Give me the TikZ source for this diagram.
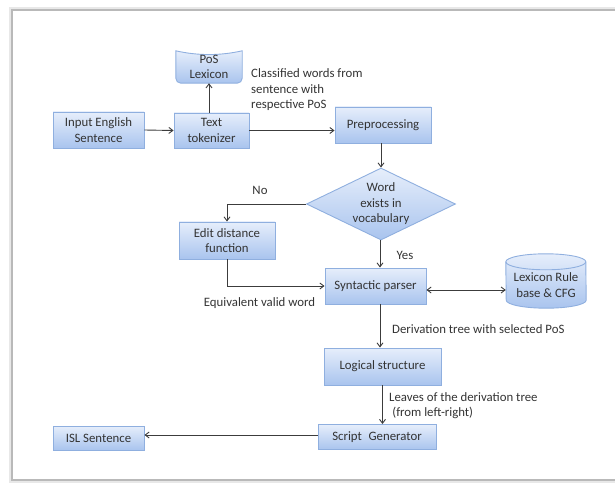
\documentclass[tikz,border=0pt]{standalone}
\usepackage{fontspec}
\setmainfont{Carlito}
\usetikzlibrary{arrows.meta,shapes.geometric,calc}
\definecolor{boxtop}{HTML}{E6EEFB}
\definecolor{boxbot}{HTML}{A9C4EE}
\definecolor{boxline}{HTML}{8FAFDF}
\definecolor{txtc}{HTML}{333333}
\definecolor{linec}{HTML}{3C3C3C}
\begin{document}
\begin{tikzpicture}[x=1pt,y=-1pt,
  every node/.style={font=\fontsize{12.8}{15.5}\selectfont, text=txtc},
  blok/.style={rectangle, draw=boxline, line width=0.9pt, top color=boxtop, bottom color=boxbot, align=center, inner sep=0pt},
  plain/.style={inner sep=0pt, align=left},
  conn/.style={draw=linec, line width=0.9pt, -{Straight Barb[length=4pt,width=6pt]}},
  bconn/.style={draw=linec, line width=0.9pt, {Straight Barb[length=4pt,width=6pt]}-{Straight Barb[length=4pt,width=6pt]}}
]
\useasboundingbox (0,0) rectangle (615,486);
% frame
\draw[line width=4pt, gray!18] (615,9) -- (11,9) -- (11,481) -- (615,481);
\draw[line width=1.4pt, gray!55] (615,10) -- (12,10) -- (12,480) -- (615,480);

% nodes
\node[blok, minimum width=91pt, minimum height=36pt] (inp) at (98.5,130) {Input English\\Sentence};
\node[blok, minimum width=75pt, minimum height=35pt] (tok) at (211.5,130.5) {Text\\tokenizer};
% PoS lexicon (custom shape)
\node[plain, align=center, minimum width=66pt, minimum height=32pt] (pos) at (209,67) {};
\path[draw=boxline, line width=0.9pt, top color=boxtop, bottom color=boxbot]
  (pos.north west) .. controls ($(pos.north west)+(22,5)$) and ($(pos.north east)+(-22,5)$) .. (pos.north east)
  -- ($(pos.south east)+(0,-5)$) arc[start angle=0, end angle=-90, radius=5pt]
  -- ($(pos.south west)+(5,0)$) arc[start angle=-90, end angle=-180, radius=5pt] -- cycle;
\node[plain, align=center] at (209,67) {PoS\\Lexicon};

\node[plain] (cls) at (251,90) [anchor=west] {Classified words from\\sentence with\\respective PoS};
\node[blok, minimum width=96pt, minimum height=36pt] (pre) at (383,125) {Preprocessing};
\node[diamond, draw=boxline, line width=0.9pt, top color=boxtop, bottom color=boxbot, minimum width=149pt, minimum height=72pt, inner sep=0pt] (dia) at (381,204) {};
\node[plain, align=center] (diat) at (381,204) {Word\\exists in\\vocabulary};
\node[blok, minimum width=96pt, minimum height=37pt] (edit) at (227,240.5) {Edit distance\\function};
\node[blok, minimum width=101pt, minimum height=36pt] (syn) at (375.5,286) {Syntactic parser};
% cylinder
\node[plain, align=center, minimum width=80pt, minimum height=54pt] (lex) at (546,281) {};
\path[draw=boxline, line width=0.9pt, top color=boxtop, bottom color=boxbot]
  ($(lex.north west)+(0,8)$) arc[x radius=40pt, y radius=8pt, start angle=180, end angle=0]
  -- ($(lex.south east)+(0,-8)$) arc[x radius=40pt, y radius=8pt, start angle=0, end angle=-180] -- cycle;
\draw[boxline, line width=0.9pt] ($(lex.north west)+(0,8)$) arc[x radius=40pt, y radius=8pt, start angle=180, end angle=360];
\node[plain, align=center] at (546,285) {Lexicon Rule\\base \& CFG};
\node[blok, minimum width=117pt, minimum height=37pt] (log) at (382.5,366.5) {Logical structure};
\node[blok, minimum width=118pt, minimum height=25pt] (scr) at (377,437) {Script\hspace{0.3em} Generator};
\node[blok, minimum width=91pt, minimum height=24pt] (isl) at (98.5,438) {ISL Sentence};

% labels
\node[plain] (lno) at (260,190) {No};
\node[plain] (lyes) at (405,255) {Yes};
\node[plain] (leq) at (259.5,303) {Equivalent valid word};
\node[plain, anchor=west] (lder) at (392,329) {Derivation tree with selected PoS};
\node[plain, anchor=west] (llea) at (389,405.5) {Leaves of the derivation tree\\\hspace{0.25em}(from left-right)};

% connectors
\draw[conn] (inp.east) -- (tok.west);
\draw[conn] (tok.north -| pos.south) -- (pos.south);
\draw[conn] (tok.east) -- (tok.east -| pre.west);
\draw[conn] (pre.south -| dia.north) -- (dia.north);
\draw[conn] (dia.west) -| (edit.north);
\draw[conn] ([xshift=-1pt]dia.south) -- ([xshift=-1pt]dia.south |- syn.north);
\draw[conn] (edit.south) |- (syn.west);
\draw[bconn] ([yshift=-4pt]syn.east) -- ([yshift=-4pt]syn.east -| lex.west);
\draw[conn] ([xshift=4.5pt]syn.south) -- ([xshift=4.5pt]syn.south |- log.north);
\draw[conn] (log.south) -- (log.south |- scr.north);
\draw[conn] ([yshift=2pt]scr.west) -- ([yshift=2pt]scr.west -| isl.east);
\end{tikzpicture}
\end{document}
